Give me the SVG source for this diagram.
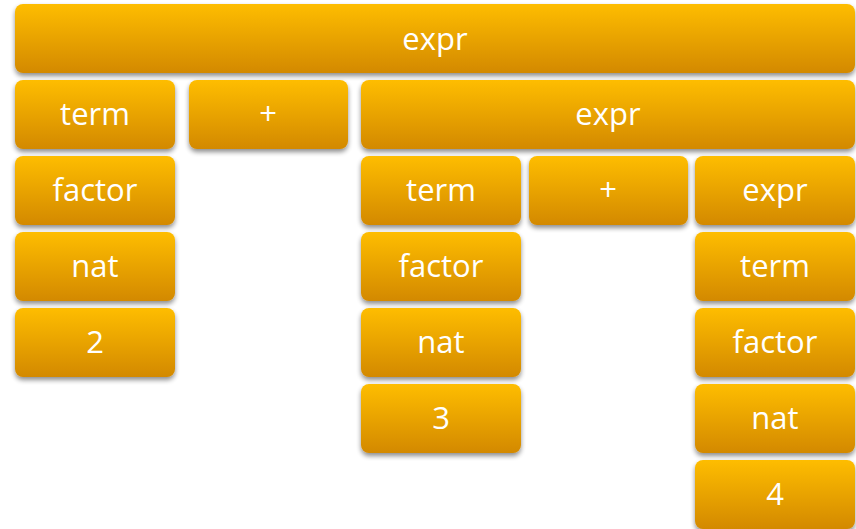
<svg xmlns="http://www.w3.org/2000/svg" width="856" height="529" viewBox="0 0 856 529">
<defs>
<linearGradient id="g" x1="0" y1="0" x2="0" y2="1">
<stop offset="0" stop-color="#FEBD00"/>
<stop offset="1" stop-color="#D38900"/>
</linearGradient>
<filter id="sh" x="-10%" y="-20%" width="120%" height="150%">
<feGaussianBlur in="SourceAlpha" stdDeviation="2.5"/>
<feOffset dx="0" dy="3" result="b"/>
<feComponentTransfer><feFuncA type="linear" slope="0.45"/></feComponentTransfer>
<feMerge><feMergeNode/><feMergeNode in="SourceGraphic"/></feMerge>
</filter>
</defs>
<style>
rect{fill:url(#g);filter:url(#sh)}
text{fill:#fff;font-family:"Open Sans","Noto Sans",sans-serif;font-size:31px;text-anchor:middle}
</style>
<g id="n1"><rect x="15" y="4" width="840" height="69" rx="8"/><text x="435" y="50">expr</text></g>
<g id="n2"><rect x="15" y="80" width="160" height="69" rx="8"/><text x="95" y="125">term</text></g>
<g id="n3"><rect x="189" y="80" width="159" height="69" rx="8"/><text x="268" y="125">+</text></g>
<g id="n4"><rect x="361" y="80" width="494" height="69" rx="8"/><text x="608" y="125">expr</text></g>
<g id="n5"><rect x="15" y="156" width="160" height="69" rx="8"/><text x="95" y="201">factor</text></g>
<g id="n6"><rect x="361" y="156" width="160" height="69" rx="8"/><text x="441" y="201">term</text></g>
<g id="n7"><rect x="529" y="156" width="159" height="69" rx="8"/><text x="608" y="201">+</text></g>
<g id="n8"><rect x="695" y="156" width="160" height="69" rx="8"/><text x="775" y="201">expr</text></g>
<g id="n9"><rect x="15" y="232" width="160" height="69" rx="8"/><text x="95" y="277">nat</text></g>
<g id="n10"><rect x="361" y="232" width="160" height="69" rx="8"/><text x="441" y="277">factor</text></g>
<g id="n11"><rect x="695" y="232" width="160" height="69" rx="8"/><text x="775" y="277">term</text></g>
<g id="n12"><rect x="15" y="308" width="160" height="69" rx="8"/><text x="95" y="353">2</text></g>
<g id="n13"><rect x="361" y="308" width="160" height="69" rx="8"/><text x="441" y="353">nat</text></g>
<g id="n14"><rect x="695" y="308" width="160" height="69" rx="8"/><text x="775" y="353">factor</text></g>
<g id="n15"><rect x="361" y="384" width="160" height="69" rx="8"/><text x="441" y="429">3</text></g>
<g id="n16"><rect x="695" y="384" width="160" height="69" rx="8"/><text x="775" y="429">nat</text></g>
<g id="n17"><rect x="695" y="460" width="160" height="69" rx="8"/><text x="775" y="505">4</text></g>
<g id="connectors"/>
</svg>
